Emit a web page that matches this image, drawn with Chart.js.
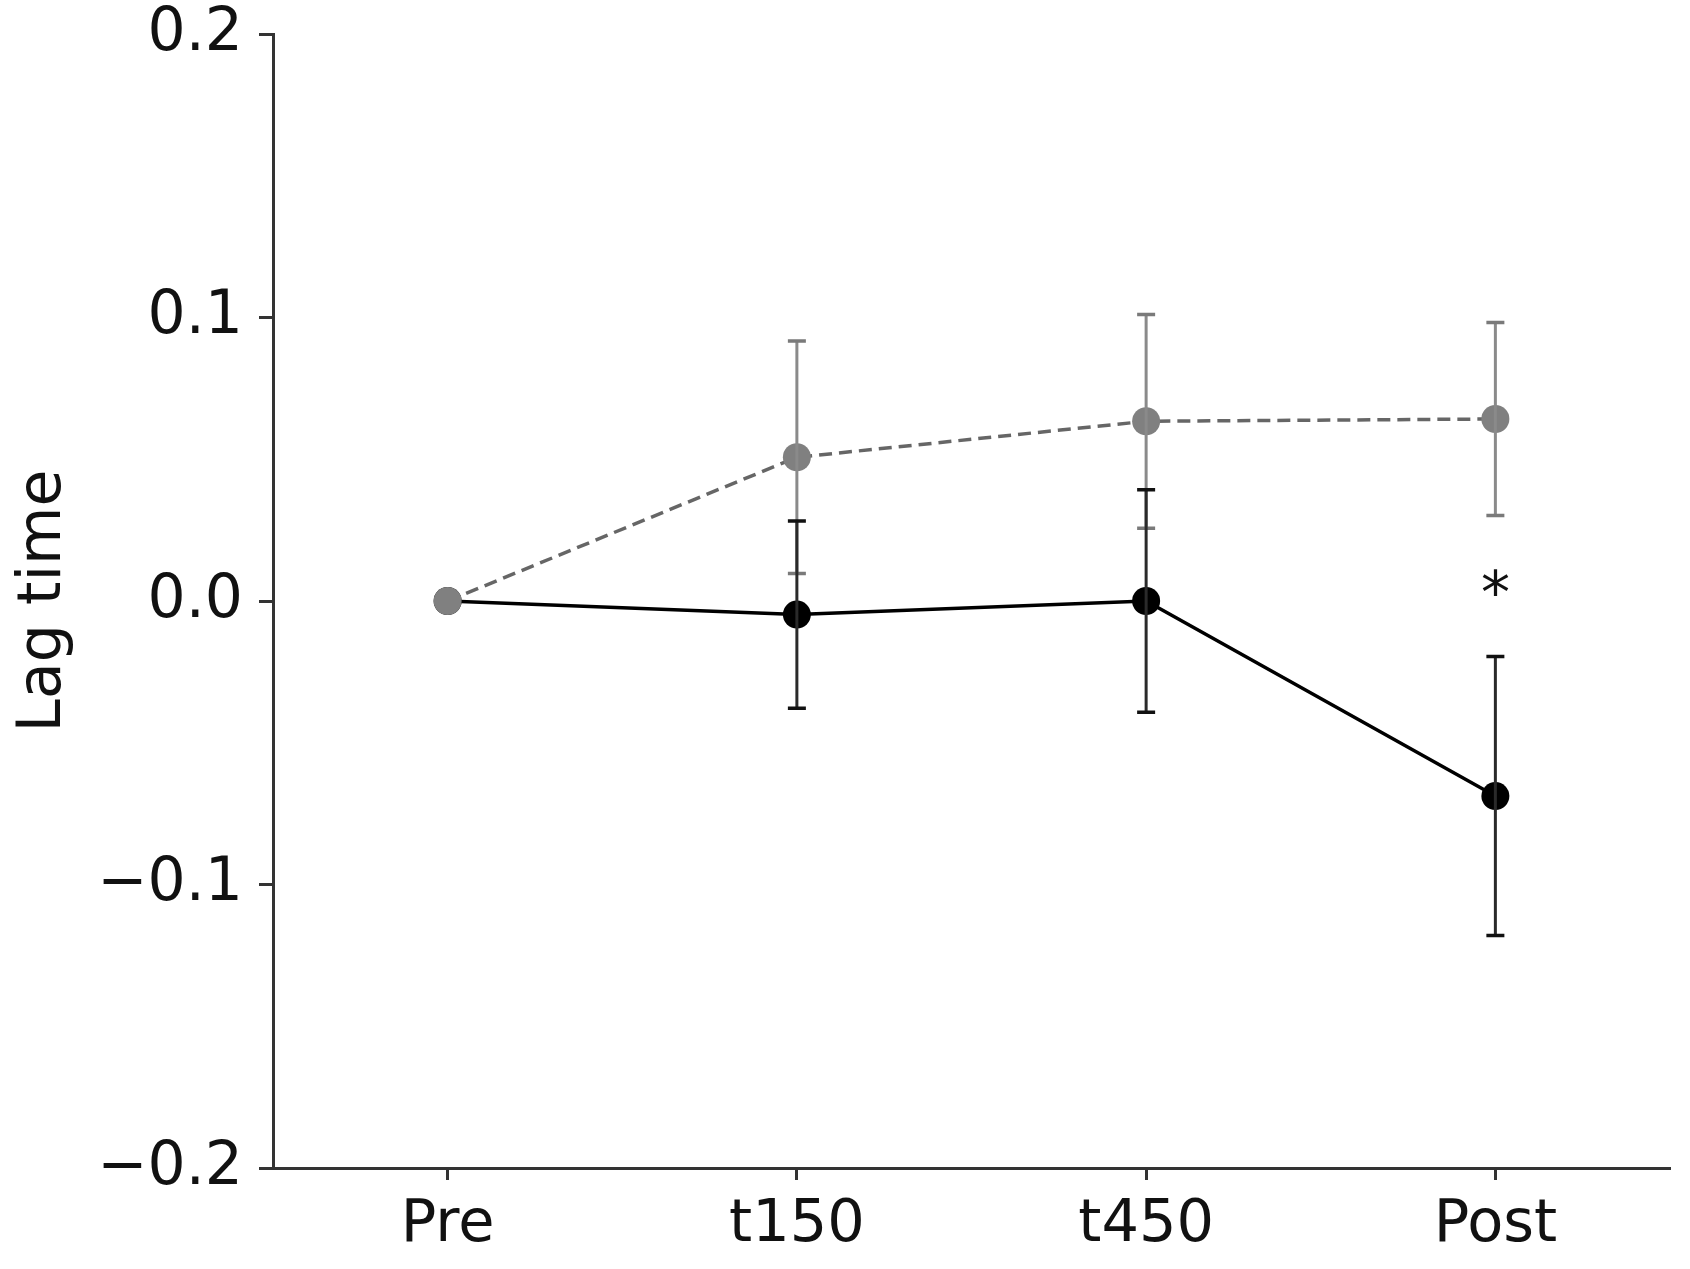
<!DOCTYPE html>
<html lang="en">
<head>
    <meta charset="UTF-8"/>
    <title>Lag time</title>
    <script src="https://cdn.jsdelivr.net/npm/chart.js"></script>
    <style>
        html, body {
            margin: 0;
            padding: 0;
            background-color: #fff;
            width: 100%;
            height: 100%;
        }

        .canvas-wrapper {
            width: 1690px;
            height: 1269px;
            position: relative;
        }

        canvas {
            display: block;
        }
    </style>
</head>
<body>
<div class="canvas-wrapper">
    <canvas id="lagChart"></canvas>
</div>

<script>
    const categories = ['Pre', 't150', 't450', 'Post'];

    const grayValues = [0.0, 0.0507, 0.0634, 0.0642];
    const grayErrors = [0, 0.041, 0.0377, 0.034];

    const blackValues = [0.0, -0.0048, 0.0, -0.0688];
    const blackErrors = [0, 0.033, 0.0392, 0.0492];

    const yTicks = [-0.2, -0.1, 0.0, 0.1, 0.2];

    // significance mark above Post
    const starLabel = '*';
    const starIndex = 3;
    const starValue = 0.0055;

    const FONT = "'DejaVu Sans', sans-serif";

    const errorBarPlugin = {
        id: 'errorBars',
        afterDatasetsDraw(chart) {
            const ctx = chart.ctx;
            const x = chart.scales.x;
            const y = chart.scales.y;
            const sets = [
                {values: grayValues, errors: grayErrors, line: '#8a8a8a', cap: '#7a7a7a'},
                {values: blackValues, errors: blackErrors, line: '#2a2a2a', cap: '#111'}
            ];
            ctx.save();
            sets.forEach(s => {
                s.values.forEach((v, i) => {
                    const e = s.errors[i];
                    if (!e) return;
                    const px = x.getPixelForValue(i);
                    const top = y.getPixelForValue(v + e);
                    const bot = y.getPixelForValue(v - e);
                    ctx.strokeStyle = s.line;
                    ctx.lineWidth = 3;
                    ctx.beginPath();
                    ctx.moveTo(px, top);
                    ctx.lineTo(px, bot);
                    ctx.stroke();
                    ctx.strokeStyle = s.cap;
                    ctx.lineWidth = 3.5;
                    ctx.beginPath();
                    ctx.moveTo(px - 9, top);
                    ctx.lineTo(px + 9, top);
                    ctx.moveTo(px - 9, bot);
                    ctx.lineTo(px + 9, bot);
                    ctx.stroke();
                });
            });
            ctx.restore();
        }
    };

    const starPlugin = {
        id: 'star',
        afterDraw(chart) {
            const ctx = chart.ctx;
            const px = chart.scales.x.getPixelForValue(starIndex);
            const py = chart.scales.y.getPixelForValue(starValue);
            ctx.save();
            ctx.fillStyle = '#111';
            ctx.font = '58px ' + FONT;
            ctx.textAlign = 'center';
            ctx.textBaseline = 'middle';
            ctx.fillText(starLabel, px, py + 13);
            ctx.restore();
        }
    };

    const ctx = document.getElementById('lagChart').getContext('2d');

    const lagChart = new Chart(ctx, {
        type: 'line',
        data: {
            labels: categories,
            datasets: [
                {
                    data: blackValues,
                    borderColor: '#000',
                    backgroundColor: '#000',
                    borderWidth: 3.5,
                    pointRadius: 14,
                    pointBorderWidth: 0,
                    pointBackgroundColor: '#000',
                    tension: 0,
                    order: 2
                },
                {
                    data: grayValues,
                    borderColor: '#666',
                    backgroundColor: '#808080',
                    borderWidth: 3.5,
                    borderDash: [13, 7],
                    pointRadius: 14,
                    pointBorderWidth: 0,
                    pointBackgroundColor: '#808080',
                    tension: 0,
                    order: 1
                }
            ]
        },
        options: {
            responsive: true,
            maintainAspectRatio: false,
            animation: false,
            layout: {
                padding: {top: 34, right: 20, left: 0, bottom: 0}
            },
            scales: {
                x: {
                    type: 'category',
                    offset: true,
                    afterFit(scale) {
                        scale.height = 101;
                        scale.paddingLeft = 0;
                        scale.paddingRight = 0;
                    },
                    grid: {
                        display: true,
                        drawOnChartArea: false,
                        drawTicks: true,
                        tickLength: 12,
                        tickWidth: 3,
                        color: '#333',
                        offset: false
                    },
                    border: {display: true, color: '#333', width: 3},
                    ticks: {
                        color: '#111',
                        padding: 10,
                        font: {family: FONT, size: 59}
                    }
                },
                y: {
                    min: -0.2,
                    max: 0.2,
                    afterFit(scale) {
                        scale.width = 273;
                        scale.paddingTop = 0;
                        scale.paddingBottom = 0;
                    },
                    afterBuildTicks(scale) {
                        scale.ticks = yTicks.map(v => ({value: v}));
                    },
                    grid: {
                        display: true,
                        drawOnChartArea: false,
                        drawTicks: true,
                        tickLength: 14,
                        tickWidth: 3,
                        color: '#333'
                    },
                    border: {display: true, color: '#333', width: 3},
                    ticks: {
                        color: '#111',
                        padding: 16,
                        font: {family: FONT, size: 60},
                        callback: v => (v < 0 ? '\u2212' : '') + Math.abs(v).toFixed(1)
                    },
                    title: {
                        display: true,
                        text: 'Lag time',
                        color: '#111',
                        padding: {top: 8, bottom: 0},
                        font: {family: FONT, size: 60}
                    }
                }
            },
            plugins: {
                legend: {display: false},
                tooltip: {enabled: false}
            }
        },
        plugins: [errorBarPlugin, starPlugin]
    });
</script>
</body>
</html>
